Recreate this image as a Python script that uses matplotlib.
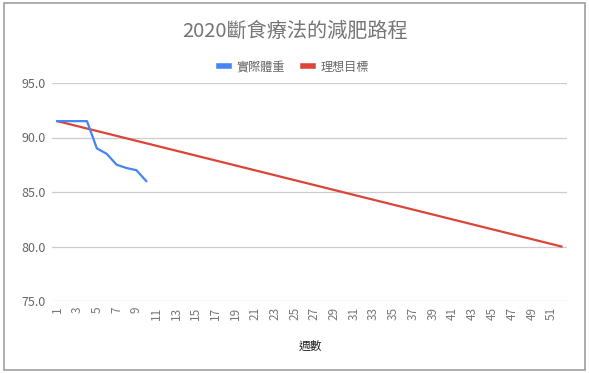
import matplotlib
matplotlib.use('Agg')
import matplotlib.pyplot as plt
from matplotlib.patches import Rectangle
from matplotlib.lines import Line2D

plt.rcParams['font.family'] = ['Noto Sans CJK TC', 'DejaVu Sans']

# actual weight per week
weeks = [1, 2, 3, 4, 5, 6, 7, 8, 9, 10]
weight = [91.5, 91.5, 91.5, 91.5, 89.0, 88.5, 87.5, 87.2, 87.0, 86.0]

# target line: start and end of the plan
target_weeks = [1, 52]
target = [91.5, 80.0]

xticks = list(range(1, 53, 2))
yticks = [75.0, 80.0, 85.0, 90.0, 95.0]

title = '2020斷食療法的減肥路程'
labels = ['實際體重', '理想目標']
xlabel = '週數'

blue = '#4285f4'
red = '#db4437'

fig = plt.figure(figsize=(5.89, 3.73), dpi=100)
W, H = 589, 373

# chart border
fig.patches.append(Rectangle((4 / W, 1 - 370 / H), 581 / W, 367 / H,
                             transform=fig.transFigure, fill=False,
                             edgecolor='#9e9e9e', linewidth=1.2))

ax = fig.add_axes([51.7 / W, 1 - 301 / H, (566.7 - 51.7) / W, (301 - 83) / H])
ax.plot(weeks, weight, color=blue, linewidth=1.6, zorder=3)
ax.plot(target_weeks, target, color=red, linewidth=1.6, zorder=2)

ax.set_xlim(0.43, 52.53)
ax.set_ylim(75, 95)
ax.set_yticks(yticks)
ax.set_yticklabels([f'{v:.1f}' for v in yticks], fontsize=9, color='#666666')
ax.set_xticks(xticks)
ax.set_xticklabels([str(v) for v in xticks], rotation=90, fontsize=8.5,
                   color='#777777')
ax.tick_params(axis='both', length=0, pad=4)
ax.grid(axis='y', color='#cccccc', linewidth=0.9)
for s in ax.spines.values():
    s.set_visible(False)
ax.set_axisbelow(True)

fig.text(295 / W, 1 - 31 / H, title, ha='center', va='center',
         fontsize=14.5, color='#757575')
fig.text(310 / W, 1 - 346 / H, xlabel, ha='center', va='center',
         fontsize=8.5, color='#222222')

handles = [Line2D([], [], color=blue, linewidth=4),
           Line2D([], [], color=red, linewidth=4)]
fig.legend(handles, labels, loc='center', bbox_to_anchor=(294 / W, 1 - 67 / H),
           ncol=2, frameon=False, fontsize=8.7, handlelength=0.85,
           handletextpad=0.6, columnspacing=1.5, labelcolor='#666666')

fig.savefig('out.png', dpi=100)
